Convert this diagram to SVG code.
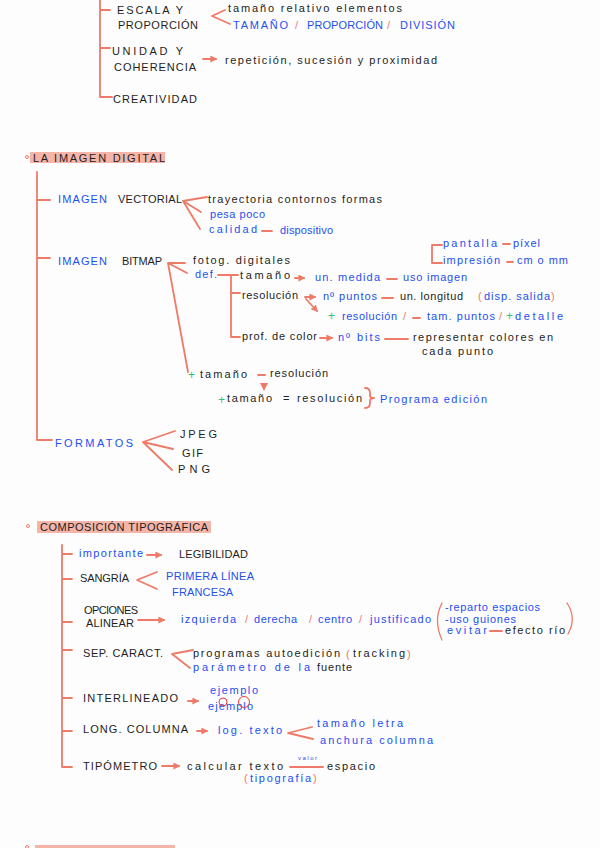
<svg xmlns="http://www.w3.org/2000/svg" width="600" height="848" viewBox="0 0 600 848">
<style>
text{font-family:"Liberation Sans",Arial,sans-serif;font-size:11px}
.k{fill:#1e1e1e}
.b{fill:#1f4ff0}
.r{fill:#ee7a68}
.g{fill:#2ec27e;font-size:12px}
.s{font-size:6px}
.ln{fill:none;stroke:#ee7a68;stroke-width:1.8;stroke-linecap:round;stroke-linejoin:round}
.th{fill:none;stroke:#ee7a68;stroke-width:1.3;stroke-linecap:round}
.ci{fill:none;stroke:#e83c3c;stroke-width:1}
.hl{fill:#f4b4a7}
</style>
<defs>
<marker id="ah" viewBox="0 0 10 10" refX="8" refY="5" markerWidth="7" markerHeight="7" markerUnits="userSpaceOnUse" orient="auto">
<path d="M0,0 L10,5 L0,10 z" fill="#ee7a68"/>
</marker>
</defs>
<rect width="600" height="848" fill="#fdfdfd"/>

<g id="connectors">
<!-- top section -->
<path class="ln" d="M100,0 V97 H112 M100,10 H110 M100,48 H110"/>
<path class="ln" d="M225,10 L212,16 L230,24"/>
<path class="ln" d="M203,59 H216" marker-end="url(#ah)"/>
<!-- imagen digital -->
<path class="ln" d="M37,172 V440 H52 M37,200 H50 M37,258 H50"/>
<path class="ln" d="M183,201 L207,197 M183,201 L201,212 M183,201 L200,229"/>
<path class="ln" d="M262,231 H272"/>
<path class="ln" d="M168,263 L185,263 M168,263 L187,273 M168,263 L188,372"/>
<path class="ln" d="M218,275 H238 M231,275 V337 H240 M231,293 H240"/>
<path class="ln" d="M295,278 H304" marker-end="url(#ah)"/>
<path class="ln" d="M387,279 H397"/>
<path class="ln" d="M305,297 H315" marker-end="url(#ah)"/>
<path class="ln" d="M306,299 L317,311" marker-end="url(#ah)"/>
<path class="ln" d="M382,298 H393"/>
<path class="ln" d="M413,318 H420"/>
<path class="ln" d="M320,338 H332" marker-end="url(#ah)"/>
<path class="ln" d="M385,339 H408"/>
<path class="ln" d="M442,245 H432 V263 H442 M503,244 H510 M507,262 H513"/>
<path class="ln" d="M258,375 H265"/>
<path d="M260,383 L268,383 L264,391 z" fill="#ee7a68"/>
<path class="ln" d="M365,388 Q370,388 370,393 L370,396 Q370,398 374,398 Q370,398 370,401 L370,403 Q370,408 365,408"/>
<path class="ln" d="M143,442 L175,431 M143,442 L173,449 M143,442 L172,470"/>
<!-- composicion tipografica -->
<path class="ln" d="M62,545 V767 H72 M62,554 H72 M62,579 H72 M62,622 H72 M62,650 H72 M62,698 H72 M62,731 H72"/>
<path class="ln" d="M147,555 H161" marker-end="url(#ah)"/>
<path class="ln" d="M157,572 L137,580 L157,589"/>
<path class="ln" d="M138,620 H164" marker-end="url(#ah)"/>
<path class="th" d="M442,603 Q433,620 442,640 M567,603 Q577,618 568,634"/>
<path class="ln" d="M490,631 H502"/>
<path class="ln" d="M172,654 L193,650 M172,654 L190,668"/>
<path class="ln" d="M188,701 H198" marker-end="url(#ah)"/>
<path class="ln" d="M197,731 H207" marker-end="url(#ah)"/>
<path class="ln" d="M312,727 L288,733 L313,739"/>
<path class="ln" d="M162,766 H179" marker-end="url(#ah)"/>
<path class="ln" d="M290,767 H323"/>
</g>

<g id="escala">
<text class="k" x="117" y="14" textLength="66" lengthAdjust="spacing">ESCALA Y</text>
<text class="k" x="118" y="29" textLength="80" lengthAdjust="spacing">PROPORCIÓN</text>
</g>
<g id="escala-detalle">
<text class="k" x="228" y="12" textLength="174" lengthAdjust="spacing">tamaño relativo elementos</text>
<text class="b" x="233" y="29" textLength="55" lengthAdjust="spacing">TAMAÑO</text>
<text class="r" x="295" y="29">/</text>
<text class="b" x="307" y="29" textLength="76" lengthAdjust="spacing">PROPORCIÓN</text>
<text class="r" x="387" y="29">/</text>
<text class="b" x="400" y="29" textLength="55" lengthAdjust="spacing">DIVISIÓN</text>
</g>
<g id="unidad">
<text class="k" x="112" y="55" textLength="71" lengthAdjust="spacing">UNIDAD Y</text>
<text class="k" x="114" y="71" textLength="82" lengthAdjust="spacing">COHERENCIA</text>
</g>
<g id="unidad-detalle">
<text class="k" x="225" y="64" textLength="212" lengthAdjust="spacing">repetición, sucesión y proximidad</text>
</g>
<g id="creatividad">
<text class="k" x="113" y="103" textLength="84" lengthAdjust="spacing">CREATIVIDAD</text>
</g>

<g id="imagen-digital">
<circle cx="27" cy="157" r="1.5" fill="none" stroke="#ee7a68" stroke-width="1"/>
<rect class="hl" x="30" y="152" width="135" height="11"/>
<text class="k" x="33" y="162" textLength="132" lengthAdjust="spacing">LA IMAGEN DIGITAL</text>
</g>
<g id="vectorial">
<text class="b" x="58" y="203" textLength="49" lengthAdjust="spacing">IMAGEN</text>
<text class="k" x="118" y="203" textLength="64" lengthAdjust="spacing">VECTORIAL</text>
</g>
<g id="vectorial-detalle">
<text class="k" x="208" y="203" textLength="174" lengthAdjust="spacing">trayectoria contornos formas</text>
<text class="b" x="210" y="218" textLength="55" lengthAdjust="spacing">pesa poco</text>
<text class="b" x="209" y="233" textLength="48" lengthAdjust="spacing">calidad</text>
<text class="b" x="280" y="234" textLength="53" lengthAdjust="spacing">dispositivo</text>
</g>
<g id="bitmap">
<text class="b" x="58" y="265" textLength="49" lengthAdjust="spacing">IMAGEN</text>
<text class="k" x="122" y="265" textLength="40" lengthAdjust="spacing">BITMAP</text>
</g>
<g id="bitmap-detalle">
<text class="k" x="193" y="264" textLength="97" lengthAdjust="spacing">fotog. digitales</text>
<text class="b" x="195" y="278" textLength="22" lengthAdjust="spacing">def.</text>
<text class="k" x="240" y="279" textLength="50" lengthAdjust="spacing">tamaño</text>
<text class="b" x="315" y="281" textLength="65" lengthAdjust="spacing">un. medida</text>
<text class="b" x="403" y="281" textLength="64" lengthAdjust="spacing">uso imagen</text>
<text class="k" x="242" y="299" textLength="56" lengthAdjust="spacing">resolución</text>
<text class="b" x="323" y="300" textLength="54" lengthAdjust="spacing">nº puntos</text>
<text class="k" x="400" y="300" textLength="63" lengthAdjust="spacing">un. longitud</text>
<text class="r" x="478" y="300">(</text>
<text class="b" x="484" y="300" textLength="66" lengthAdjust="spacing">disp. salida</text>
<text class="r" x="551" y="300">)</text>
<text class="g" x="328" y="320">+</text>
<text class="b" x="342" y="320" textLength="55" lengthAdjust="spacing">resolución</text>
<text class="r" x="403" y="320">/</text>
<text class="b" x="427" y="320" textLength="68" lengthAdjust="spacing">tam. puntos</text>
<text class="r" x="499" y="320">/</text>
<text class="g" x="506" y="320">+</text>
<text class="b" x="515" y="320" textLength="48" lengthAdjust="spacing">detalle</text>
<text class="k" x="242" y="340" textLength="75" lengthAdjust="spacing">prof. de color</text>
<text class="b" x="338" y="341" textLength="42" lengthAdjust="spacing">nº bits</text>
<text class="k" x="413" y="341" textLength="140" lengthAdjust="spacing">representar colores en</text>
<text class="k" x="422" y="355" textLength="71" lengthAdjust="spacing">cada punto</text>
</g>
<g id="pantalla">
<text class="b" x="443" y="247" textLength="54" lengthAdjust="spacing">pantalla</text>
<text class="b" x="513" y="247" textLength="27" lengthAdjust="spacing">píxel</text>
<text class="b" x="443" y="264" textLength="57" lengthAdjust="spacing">impresión</text>
<text class="b" x="517" y="264" textLength="51" lengthAdjust="spacing">cm o mm</text>
</g>
<g id="tamano-resolucion">
<text class="g" x="188" y="379">+</text>
<text class="k" x="200" y="378" textLength="47" lengthAdjust="spacing">tamaño</text>
<text class="k" x="270" y="377" textLength="58" lengthAdjust="spacing">resolución</text>
<text class="g" x="218" y="404">+</text>
<text class="k" x="227" y="402" textLength="45" lengthAdjust="spacing">tamaño</text>
<text class="k" x="283" y="402">=</text>
<text class="k" x="297" y="402" textLength="65" lengthAdjust="spacing">resolución</text>
<text class="b" x="380" y="403" textLength="107" lengthAdjust="spacing">Programa edición</text>
</g>
<g id="formatos">
<text class="b" x="55" y="447" textLength="78" lengthAdjust="spacing">FORMATOS</text>
<text class="k" x="180" y="438" textLength="37" lengthAdjust="spacing">JPEG</text>
<text class="k" x="182" y="457" textLength="21" lengthAdjust="spacing">GIF</text>
<text class="k" x="178" y="473" textLength="32" lengthAdjust="spacing">PNG</text>
</g>

<g id="composicion">
<circle cx="28" cy="526" r="1.5" fill="none" stroke="#ee7a68" stroke-width="1"/>
<rect class="hl" x="37" y="521" width="174" height="12"/>
<text class="k" x="40" y="531" textLength="168" lengthAdjust="spacing">COMPOSICIÓN TIPOGRÁFICA</text>
</g>
<g id="importante">
<text class="b" x="79" y="557" textLength="64" lengthAdjust="spacing">importante</text>
<text class="k" x="179" y="558" textLength="69" lengthAdjust="spacing">LEGIBILIDAD</text>
</g>
<g id="sangria">
<text class="k" x="80" y="582" textLength="49" lengthAdjust="spacing">SANGRÍA</text>
<text class="b" x="166" y="580" textLength="88" lengthAdjust="spacing">PRIMERA LÍNEA</text>
<text class="b" x="172" y="596" textLength="61" lengthAdjust="spacing">FRANCESA</text>
</g>
<g id="opciones">
<text class="k" x="84" y="614" textLength="54" lengthAdjust="spacing">OPCIONES</text>
<text class="k" x="86" y="627" textLength="48" lengthAdjust="spacing">ALINEAR</text>
<text class="b" x="181" y="623" textLength="55" lengthAdjust="spacing">izquierda</text>
<text class="r" x="245" y="623">/</text>
<text class="b" x="254" y="623" textLength="43" lengthAdjust="spacing">derecha</text>
<text class="r" x="309" y="623">/</text>
<text class="b" x="318" y="623" textLength="34" lengthAdjust="spacing">centro</text>
<text class="r" x="359" y="623">/</text>
<text class="b" x="370" y="623" textLength="61" lengthAdjust="spacing">justificado</text>
<text class="b" x="445" y="611" textLength="95" lengthAdjust="spacing">-reparto espacios</text>
<text class="b" x="445" y="623" textLength="71" lengthAdjust="spacing">-uso guiones</text>
<text class="b" x="447" y="634" textLength="40" lengthAdjust="spacing">evitar</text>
<text class="k" x="505" y="634" textLength="60" lengthAdjust="spacing">efecto río</text>
</g>
<g id="sep-caract">
<text class="k" x="83" y="657" textLength="80" lengthAdjust="spacing">SEP. CARACT.</text>
<text class="k" x="193" y="657" textLength="147" lengthAdjust="spacing">programas autoedición</text>
<text class="r" x="346" y="658">(</text>
<text class="k" x="353" y="657" textLength="52" lengthAdjust="spacing">tracking</text>
<text class="r" x="407" y="658">)</text>
<text class="b" x="193" y="671" textLength="117" lengthAdjust="spacing">parámetro de la</text>
<text class="k" x="317" y="671" textLength="35" lengthAdjust="spacing">fuente</text>
</g>
<g id="interlineado">
<text class="k" x="83" y="702" textLength="95" lengthAdjust="spacing">INTERLINEADO</text>
<text class="b" x="210" y="694" textLength="48" lengthAdjust="spacing">ejemplo</text>
<text class="b" x="208" y="710" textLength="45" lengthAdjust="spacing">ejemplo</text>
<circle class="ci" cx="223" cy="702" r="4"/>
<circle class="ci" cx="244" cy="702" r="5.5"/>
</g>
<g id="long-columna">
<text class="k" x="83" y="733" textLength="105" lengthAdjust="spacing">LONG. COLUMNA</text>
<text class="b" x="218" y="734" textLength="64" lengthAdjust="spacing">log. texto</text>
<text class="b" x="317" y="727" textLength="86" lengthAdjust="spacing">tamaño letra</text>
<text class="b" x="320" y="744" textLength="113" lengthAdjust="spacing">anchura columna</text>
</g>
<g id="tipometro">
<text class="k" x="83" y="770" textLength="74" lengthAdjust="spacing">TIPÓMETRO</text>
<text class="k" x="187" y="770" textLength="96" lengthAdjust="spacing">calcular texto</text>
<text class="b s" x="298" y="760" textLength="19" lengthAdjust="spacing">valor</text>
<text class="k" x="327" y="770" textLength="48" lengthAdjust="spacing">espacio</text>
<text class="r" x="244" y="782">(</text>
<text class="b" x="250" y="782" textLength="61" lengthAdjust="spacing">tipografía</text>
<text class="r" x="313" y="782">)</text>
</g>

<g id="siguiente">
<circle cx="27" cy="847" r="1.5" fill="none" stroke="#ee7a68" stroke-width="1"/>
<rect class="hl" x="35" y="845" width="140" height="6"/>
</g>
</svg>
